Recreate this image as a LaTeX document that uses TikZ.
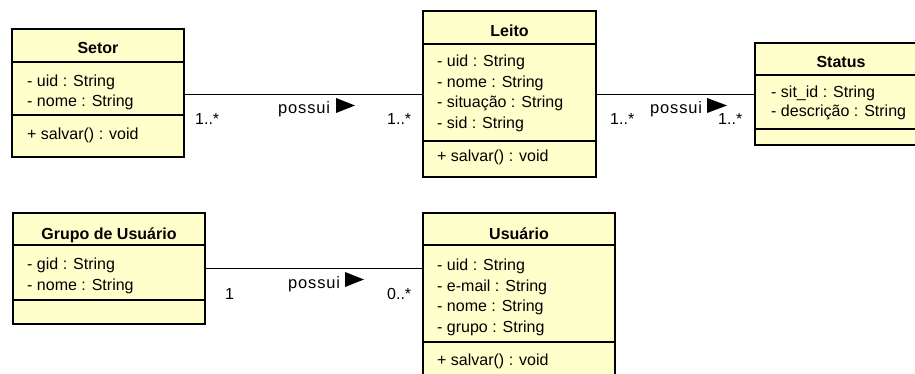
\documentclass[tikz,border=0pt]{standalone}
\usepackage{fontspec}
\setmainfont{Liberation Sans}
\definecolor{umlfill}{HTML}{FFFFCC}
\begin{document}
\begin{tikzpicture}[x=1pt,y=-1pt,
  umlbox/.style={draw=black,fill=umlfill,line width=1.6pt,rectangle,inner sep=0pt,outer sep=0pt,anchor=north west},
  sepline/.style={draw=black,line width=1.2pt},
  assoc/.style={draw=black,line width=0.9pt},
  ttl/.style={font=\fontsize{16}{20}\selectfont\bfseries,inner sep=0pt,anchor=base},
  attr/.style={font=\fontsize{16}{20}\selectfont,inner sep=0pt,anchor=base west},
  lbl/.style={font=\fontsize{16}{20}\selectfont,inner sep=0pt,anchor=base west},
  plbl/.style={font=\fontsize{16.5}{20}\selectfont\addfontfeatures{LetterSpace=5},inner sep=0pt,anchor=base west},
  tri/.style={fill=black}]
\useasboundingbox (0,0) rectangle (915,374);
\fill[white] (0,0) rectangle (915,374);
\clip (0,0) rectangle (915,374);

% Setor
\node[umlbox,minimum width=172pt,minimum height=128pt] (setor) at (12,29) {};
\draw[sepline] (setor.west |- 0,62) -- (setor.east |- 0,62);
\draw[sepline] (setor.west |- 0,115) -- (setor.east |- 0,115);
\node[ttl] (setorT) at (98,54) {Setor};
\node[attr] (setorA1) at (27,87) {- uid : String};
\node[attr] (setorA2) at (27,107) {- nome : String};
\node[attr] (setorM1) at (27,140) {+ salvar() : void};

% Leito
\node[umlbox,minimum width=173pt,minimum height=166pt] (leito) at (423,11) {};
\draw[sepline] (leito.west |- 0,44) -- (leito.east |- 0,44);
\draw[sepline] (leito.west |- 0,141) -- (leito.east |- 0,141);
\node[ttl] (leitoT) at (509.5,37) {Leito};
\node[attr] (leitoA1) at (437,67) {- uid : String};
\node[attr] (leitoA2) at (437,87.5) {- nome : String};
\node[attr] (leitoA3) at (437,108) {- situação : String};
\node[attr] (leitoA4) at (437,128.5) {- sid : String};
\node[attr] (leitoM1) at (437,162) {+ salvar() : void};

% Status
\node[umlbox,minimum width=172pt,minimum height=102pt] (status) at (755,43) {};
\draw[sepline] (status.west |- 0,75) -- (status.east |- 0,75);
\draw[sepline] (status.west |- 0,129) -- (status.east |- 0,129);
\node[ttl] (statusT) at (841,68) {Status};
\node[attr] (statusA1) at (771,98) {- sit\_id : String};
\node[attr] (statusA2) at (771,117) {- descrição : String};

% Grupo de Usuario
\node[umlbox,minimum width=192pt,minimum height=111pt] (grupo) at (13,213) {};
\draw[sepline] (grupo.west |- 0,245) -- (grupo.east |- 0,245);
\draw[sepline] (grupo.west |- 0,300) -- (grupo.east |- 0,300);
\node[ttl] (grupoT) at (109,239) {Grupo de Usuário};
\node[attr] (grupoA1) at (27,269) {- gid : String};
\node[attr] (grupoA2) at (27,290) {- nome : String};

% Usuario
\node[umlbox,minimum width=192pt,minimum height=180pt] (usuario) at (423,213) {};
\draw[sepline] (usuario.west |- 0,245) -- (usuario.east |- 0,245);
\draw[sepline] (usuario.west |- 0,342) -- (usuario.east |- 0,342);
\node[ttl] (usuarioT) at (519,239) {Usuário};
\node[attr] (usuarioA1) at (437,270) {- uid : String};
\node[attr] (usuarioA2) at (437,291) {- e-mail : String};
\node[attr] (usuarioA3) at (437,311.5) {- nome : String};
\node[attr] (usuarioA4) at (437,332) {- grupo : String};
\node[attr] (usuarioM1) at (437,365) {+ salvar() : void};

% Associations
\draw[assoc] (setor.east |- leito.west) -- (leito.west);
\draw[assoc] (leito.east) -- (status.west |- leito.east);
\draw[assoc] (grupo.east) -- (usuario.west |- grupo.east);

% Labels Setor-Leito
\node[lbl] (m1) at (195,125) {1..*};
\node[plbl] (p1) at (278,114) {possui};
\fill[tri] (336,98) -- (336,113) -- (355,105.5) -- cycle;
\node[lbl] (m2) at (387,125) {1..*};

% Labels Leito-Status
\node[lbl] (m3) at (610,125) {1..*};
\node[plbl] (p2) at (650,114) {possui};
\fill[tri] (707,98) -- (707,113) -- (727,105.5) -- cycle;
\node[lbl] (m4) at (718,125) {1..*};

% Labels Grupo-Usuario
\node[lbl] (m5) at (225,299) {1};
\node[plbl] (p3) at (288,288) {possui};
\fill[tri] (345,272) -- (345,287) -- (364,279.5) -- cycle;
\node[lbl] (m6) at (387,299) {0..*};
\end{tikzpicture}
\end{document}
